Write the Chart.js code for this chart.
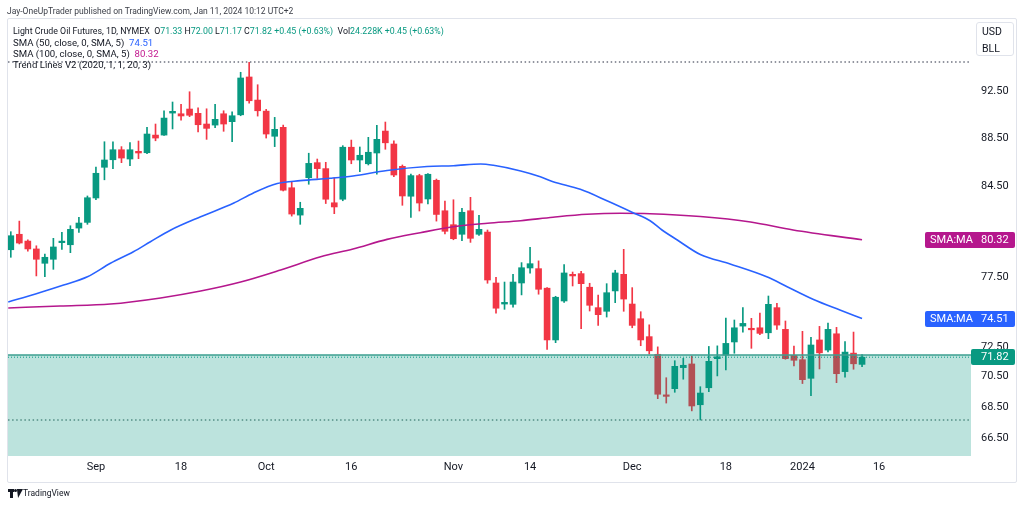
<!DOCTYPE html>
<html><head><meta charset="utf-8">
<script src="https://cdn.jsdelivr.net/npm/chart.js@4"></script>
<style>
html,body{margin:0;padding:0;background:#fff;}
body{width:1024px;height:506px;position:relative;overflow:hidden;font-family:Roboto,"Liberation Sans",sans-serif;color:#131722;}
#frame{position:absolute;left:7px;top:18px;width:1010px;height:465px;border:1px solid #e0e3eb;box-sizing:border-box;border-radius:2px;}
canvas{position:absolute;left:0;top:0;}
.t{position:absolute;white-space:nowrap;line-height:12px;font-size:9.6px;}
.g{color:#089981}.b{color:#2962ff}.m{color:#c2168e}
#unit{position:absolute;left:976px;top:22px;width:38px;height:34px;border:1px solid #e0e3eb;border-radius:3px;box-sizing:border-box;background:#fff;font-size:10.5px;line-height:17px;padding-left:5px;color:#131722;}
#logo{position:absolute;left:8px;top:488px;height:11px;}
</style></head><body>
<div id="frame"></div>
<canvas id="c" width="1024" height="506"></canvas>
<div class="t" id="hdr" style="left:7px;top:5px;color:#3b3e47;font-size:8.5px">Jay-OneUpTrader published on TradingView.com, Jan 11, 2024 10:12 UTC+2</div>
<div class="t" id="l1" style="left:13px;top:25px;font-size:8.8px">Light Crude Oil Futures, 1D, NYMEX&nbsp; O<span class="g">71.33</span> H<span class="g">72.00</span> L<span class="g">71.17</span> C<span class="g">71.82</span> <span class="g">+0.45 (+0.63%)</span>&nbsp; Vol<span class="g">24.228K</span> <span class="g">+0.45 (+0.63%)</span></div>
<div class="t" id="l2" style="left:13px;top:37px">SMA (50, close, 0, SMA, 5)&nbsp; <span class="b">74.51</span></div>
<div class="t" id="l3" style="left:13px;top:48px">SMA (100, close, 0, SMA, 5)&nbsp; <span class="m">80.32</span></div>
<div class="t" id="l4" style="left:13px;top:59px">Trend Lines V2 (2020, 1, 1, 20, 3)</div>
<div id="unit">USD<br>BLL</div>
<div id="logo">
  <div style="position:absolute;left:0;top:1px;width:6px;height:3px;background:#131722"></div>
  <div style="position:absolute;left:2px;top:1px;width:3px;height:9px;background:#131722"></div>
  <div style="position:absolute;left:6px;top:1px;width:3px;height:3px;border-radius:50%;background:#131722"></div>
  <div style="position:absolute;left:8px;top:1px;width:0;height:0;border-left:3px solid transparent;border-right:3px solid transparent;border-top:9px solid #131722;transform:skewX(-12deg)"></div>
  <div class="t" id="tv" style="left:15px;top:-1px;font-size:8.5px;color:#131722">TradingView</div>
</div>
<script>
// ---- data ----
const opens = [79.56,80.74,80.22,79.62,78.54,78.84,80.10,79.94,81.22,81.66, 83.58,86.06,86.68,87.51,86.74,87.38,87.26,88.74,88.74,90.62, 90.56,90.97,90.60,89.68,89.59,90.56,89.88,90.47,93.79,91.75, 90.79,88.64,89.40,84.40,82.23,85.21,86.44,85.95,83.20,83.48, 87.72,86.66,86.35,87.24,89.08,87.99,86.14,83.72,85.38,83.50, 85.00,82.57,81.48,80.74,82.57,80.74,80.91,77.08,75.55,75.53, 77.08,78.19,78.14,76.70,73.01,75.77,77.72,77.77,76.77,75.29, 75.03,76.50,77.72,75.55,74.50,73.24,72.02,69.28,69.70,71.11, 71.36,68.64,69.76,71.72,71.97,72.87,73.98,73.82,73.86,73.51, 75.29,73.75,71.95,71.65,70.39,73.01,72.31,73.44,70.84,72.10, 71.33];
const highs = [80.94,81.76,80.32,79.86,79.24,80.43,80.89,81.40,82.05,83.74, 86.07,88.18,88.18,87.77,88.10,88.24,89.40,89.68,90.82,91.58, 91.37,92.48,91.08,90.99,91.37,90.82,90.73,94.21,95.11,93.10, 90.94,90.25,89.59,84.88,83.24,87.22,86.74,86.47,85.21,87.85, 88.32,87.74,88.55,89.57,89.85,88.26,86.25,85.51,85.49,85.54, 85.10,83.34,83.44,82.76,83.63,82.21,81.07,77.50,77.15,77.72, 78.59,79.75,78.72,76.74,76.11,78.44,77.89,77.94,77.06,76.19, 77.03,78.02,79.59,76.74,75.00,74.07,72.53,70.43,71.58,71.74, 71.90,69.83,72.56,72.60,74.55,74.41,75.30,74.53,74.91,76.13, 75.61,74.34,72.59,73.61,73.20,73.96,74.20,73.89,72.89,73.56, 72.00];
const lows = [78.99,80.00,79.46,77.60,77.55,78.09,79.59,79.34,80.89,81.51, 83.44,85.04,85.95,86.44,86.20,86.77,87.18,88.26,88.72,89.26, 90.02,90.31,89.00,88.38,89.37,89.06,88.18,90.39,91.47,90.36, 88.49,87.77,84.14,82.15,81.51,84.68,85.16,83.14,82.34,83.36, 86.35,85.70,86.25,85.49,87.55,85.30,83.00,82.05,82.55,83.10, 81.76,80.76,80.32,80.25,80.12,80.66,77.06,74.89,75.17,75.32, 76.21,77.80,76.26,72.36,72.82,75.67,76.86,73.79,75.05,74.03, 74.62,75.65,75.03,73.86,72.61,72.04,69.04,68.75,69.46,70.33, 68.24,67.65,69.50,70.55,70.95,72.09,73.56,72.43,73.37,73.10, 73.75,71.68,71.22,70.04,69.23,71.02,72.19,70.10,70.47,71.00, 71.17];
const closes = [80.63,80.07,79.62,78.84,78.99,79.77,80.20,81.12,81.61,83.60, 85.57,86.66,87.51,86.82,87.51,87.24,88.83,88.49,90.19,90.77, 90.37,90.43,89.62,89.31,90.08,89.68,90.39,93.70,91.69,90.82, 88.83,89.23,84.20,82.31,82.76,86.38,85.95,83.48,82.87,87.72, 86.66,87.05,87.30,88.38,88.09,85.43,83.74,85.38,83.18,85.49, 82.28,80.97,80.40,82.45,80.43,81.12,77.30,75.25,75.67,77.15, 78.21,78.51,76.62,73.01,76.04,77.82,77.60,77.03,75.46,74.79, 76.37,77.82,75.91,74.03,73.01,72.26,69.33,69.19,71.20,71.27, 68.56,69.41,71.54,71.85,72.77,73.86,74.17,73.72,73.47,75.53, 74.05,71.72,71.61,70.30,72.66,72.12,73.75,70.70,72.17,71.37, 71.82];

const sma50Idx = [-0.3,2.9,6.2,9.0,11.7,14.4,16.4,18.8,22.3,26.2,28.5,31.3,34.0,37.5,40.2,44.2,48.9,52.0,55.2,56.7,59.9,62.2,63.7,66.9,70.1,73.1,75.1,76.5,78.3,81.0,84.5,88.8,91.2,94.3,97.4,100];
const sma50Val = [75.70,76.28,76.93,77.54,78.54,79.41,80.17,81.07,82.10,83.18,83.98,84.74,84.97,85.16,85.35,85.80,86.12,86.19,86.33,86.22,85.76,85.29,84.89,84.27,83.34,82.42,81.79,81.07,80.30,79.20,78.49,77.54,76.81,75.88,75.12,74.51];
const sma100Idx = [-0.3,5.8,11.7,17.6,22.3,27.0,31.7,36.4,40.2,44.2,48.1,52.0,56.0,59.9,63.7,67.7,71.6,75.1,81.0,86.9,91.9,100];
const sma100Val = [75.27,75.41,75.55,75.99,76.49,77.15,78.04,79.03,79.62,80.35,80.86,81.32,81.59,81.79,82.06,82.29,82.37,82.34,82.12,81.69,81.07,80.32];

const zoneTop = [71.97];             // trend-lines zone upper edge
const dottedLevels = [95.14, 67.65]; // trend-lines dotted levels

const yTicks = [66.5, 68.5, 70.5, 72.5, 77.5, 84.5, 88.5, 92.5];
const xTickIdx = [10, 20, 30, 40, 52, 61, 73, 84, 93, 102];
const xTickText = ['Sep','18','Oct','16','Nov','14','Dec','18','2024','16'];

// ---- chart ----
const N = opens.length;
const GREEN = '#089981', RED = '#f23645', BLUE = '#2962ff', MAG = '#b5178d';
const X_MIN = -0.33, X_MAX = 112.8, Y_MIN = 65.37, Y_MAX = 99.02;
const isUp = i => closes[i] >= opens[i];
const col = ctx => isUp(ctx.dataIndex) ? GREEN : RED;
const hline = v => [{x: X_MIN, y: v}, {x: X_MAX, y: v}];

const priceLabels = {
  id: 'priceLabels',
  afterDraw(chart){
    const {ctx, chartArea, scales:{y}} = chart;
    const right = chartArea.right + 44;
    const items = [
      {v: sma100Val[sma100Val.length-1], c: MAG, name: 'SMA:MA'},
      {v: sma50Val[sma50Val.length-1], c: BLUE, name: 'SMA:MA'},
      {v: closes[N-1], c: GREEN, name: null}
    ];
    ctx.save();
    ctx.font = '11px Roboto, "Liberation Sans", sans-serif';
    ctx.textBaseline = 'middle';
    items.forEach(it => {
      const py = Math.round(y.getPixelForValue(it.v));
      const left = it.name ? chartArea.right - 46 : chartArea.right;
      ctx.fillStyle = it.c;
      ctx.beginPath();
      if (ctx.roundRect) ctx.roundRect(left, py-8, right-left, 16, 2); else ctx.rect(left, py-8, right-left, 16);
      ctx.fill();
      ctx.fillStyle = '#fff';
      if (it.name) ctx.fillText(it.name, left + 5, py+0.5);
      ctx.fillText(it.v.toFixed(2), chartArea.right + 10, py+0.5);
    });
    ctx.restore();
  }
};

new Chart(document.getElementById('c'), {
  type: 'bar',
  data: { datasets: [
    {type:'line', label:'zone', data: hline(zoneTop[0]), fill:'start', backgroundColor:'rgba(8,153,129,0.27)', borderColor:'#3d9f90', borderWidth:1.6, pointRadius:0, order:0},
    {type:'line', label:'last', data: hline(closes[N-1]), fill:false, borderColor:GREEN, borderWidth:1, borderDash:[1,2], pointRadius:0, order:0},
    {type:'line', label:'upper', data: hline(dottedLevels[0]), fill:false, borderColor:'#6f7380', borderWidth:1.4, borderDash:[1.5,2.6], pointRadius:0, order:0},
    {type:'line', label:'lower', data: hline(dottedLevels[1]), fill:false, borderColor:'#6f8a86', borderWidth:1.4, borderDash:[1.5,2.6], pointRadius:0, order:0},
    {type:'line', label:'SMA 50', data: sma50Idx.map((x,i)=>({x, y: sma50Val[i]})), fill:false, borderColor:BLUE, borderWidth:1.6, pointRadius:0, cubicInterpolationMode:'monotone', order:1},
    {type:'line', label:'SMA 100', data: sma100Idx.map((x,i)=>({x, y: sma100Val[i]})), fill:false, borderColor:MAG, borderWidth:1.6, pointRadius:0, cubicInterpolationMode:'monotone', order:1},
    {type:'bar', label:'wick', data: opens.map((_,i)=>({x:i, y:[lows[i], highs[i]]})), backgroundColor: col, barThickness:1, grouped:false, order:3},
    {type:'bar', label:'body', data: opens.map((_,i)=>({x:i, y:[opens[i], closes[i]]})), backgroundColor: col, barThickness:6, minBarLength:1.5, grouped:false, order:2}
  ]},
  options: {
    responsive:false, animation:false, devicePixelRatio:1, events:[],
    layout: {padding: {left:8, top:20, right:8, bottom:24}},
    plugins: {legend:{display:false}, tooltip:{enabled:false}},
    scales: {
      x: {type:'linear', min:X_MIN, max:X_MAX, offset:false, position:'bottom',
          grid:{display:false, drawTicks:false}, border:{display:false},
          afterFit: s => { s.height = 26; },
          afterBuildTicks: s => { s.ticks = xTickIdx.map(v => ({value:v})); },
          ticks:{autoSkip:false, maxRotation:0, padding:5, color:'#131722', font:{size:11, family:'Roboto'},
                 callback: v => { const k = xTickIdx.indexOf(v); return k >= 0 ? xTickText[k] : ''; }}},
      y: {type:'logarithmic', position:'right', min:Y_MIN, max:Y_MAX,
          grid:{display:false, drawTicks:false}, border:{display:false},
          afterFit: s => { s.width = 45; },
          afterBuildTicks: s => { s.ticks = yTicks.map(v => ({value:v})); },
          ticks:{padding:10, color:'#131722', font:{size:11, family:'Roboto'}, callback: v => Number(v).toFixed(2)}}
    }
  },
  plugins: [priceLabels]
});
</script>
</body></html>
